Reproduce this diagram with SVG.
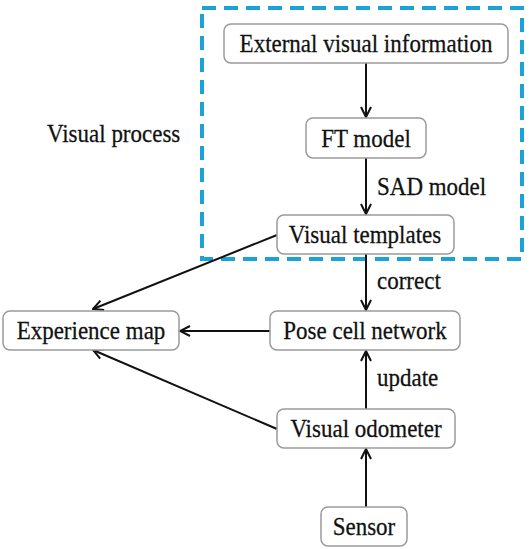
<svg xmlns="http://www.w3.org/2000/svg" width="532" height="549" viewBox="0 0 532 549">
<style>
.box{fill:#fff;stroke:#9a9a9a;stroke-width:1.5}
.t{font-family:"Liberation Serif","Times New Roman",serif;font-size:23px;fill:#111;stroke:#111;stroke-width:0.25}
.c{text-anchor:middle}
.e{stroke:#111;stroke-width:2;fill:none}
</style>
<defs>
<marker id="ah" viewBox="0 0 12 12" refX="11" refY="6" markerWidth="12" markerHeight="12" markerUnits="userSpaceOnUse" orient="auto">
<path d="M1,1 L11,6 L1,11" fill="none" stroke="#111" stroke-width="2"/>
</marker>
</defs>
<rect x="202" y="8" width="320" height="251" fill="none" stroke="#1ba3d8" stroke-width="4" stroke-dasharray="14 8"/>
<text class="t" x="47" y="0" transform="translate(0,142) scale(1,1.12)">Visual process</text>
<g id="connectors">
<line class="e" x1="366" y1="63" x2="366" y2="117" marker-end="url(#ah)"/>
<line class="e" x1="366" y1="158" x2="366" y2="214" marker-end="url(#ah)"/>
<line class="e" x1="366" y1="254" x2="366" y2="310" marker-end="url(#ah)"/>
<line class="e" x1="270" y1="331" x2="180" y2="331" marker-end="url(#ah)"/>
<line class="e" x1="277" y1="235" x2="93" y2="309" marker-end="url(#ah)"/>
<line class="e" x1="277" y1="429" x2="93" y2="350" marker-end="url(#ah)"/>
<line class="e" x1="366" y1="409" x2="366" y2="351" marker-end="url(#ah)"/>
<line class="e" x1="366" y1="507" x2="366" y2="449" marker-end="url(#ah)"/>
<text class="t" x="377" y="0" transform="translate(0,195) scale(1,1.12)">SAD model</text>
<text class="t" x="377" y="0" transform="translate(0,289) scale(1,1.12)">correct</text>
<text class="t" x="377" y="0" transform="translate(0,386) scale(1,1.12)">update</text>
</g>
<g id="external"><rect class="box" x="224" y="24" width="284" height="39" rx="7"/><text class="t c" x="366" y="0" transform="translate(0,52) scale(1,1.12)">External visual information</text></g>
<g id="ft"><rect class="box" x="306" y="118" width="120" height="40" rx="7"/><text class="t c" x="366" y="0" transform="translate(0,147) scale(1,1.12)">FT model</text></g>
<g id="templates"><rect class="box" x="277" y="215" width="177" height="39" rx="7"/><text class="t c" x="365" y="0" transform="translate(0,243) scale(1,1.12)">Visual templates</text></g>
<g id="pose"><rect class="box" x="270" y="311" width="190" height="39" rx="7"/><text class="t c" x="365" y="0" transform="translate(0,339) scale(1,1.12)">Pose cell network</text></g>
<g id="experience"><rect class="box" x="3" y="311" width="176" height="39" rx="7"/><text class="t c" x="91" y="0" transform="translate(0,339) scale(1,1.12)">Experience map</text></g>
<g id="odometer"><rect class="box" x="277" y="409" width="178" height="39" rx="7"/><text class="t c" x="366" y="0" transform="translate(0,437) scale(1,1.12)">Visual odometer</text></g>
<g id="sensor"><rect class="box" x="321" y="507" width="86" height="39" rx="7"/><text class="t c" x="364" y="0" transform="translate(0,535) scale(1,1.12)">Sensor</text></g>
</svg>
